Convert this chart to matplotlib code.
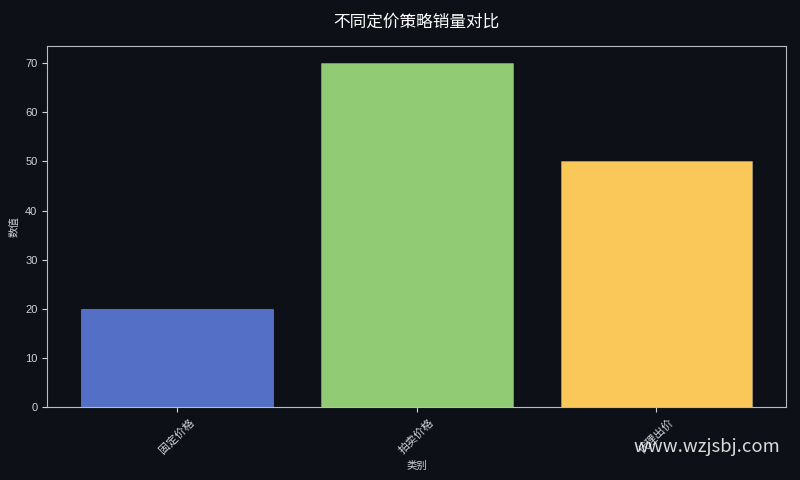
import matplotlib
matplotlib.use("Agg")
import matplotlib.pyplot as plt

plt.rcParams['font.family'] = ['Liberation Sans', 'Noto Sans CJK SC', 'DejaVu Sans']

# data
categories = ["固定价格", "拍卖价格", "代理出价"]
values = [20, 70, 50]
colors = ["#5470c6", "#91cc75", "#fac858"]

bg = "#0d1017"
fg = "#d0d4da"

fig, ax = plt.subplots(figsize=(8, 4.8), dpi=100)
fig.patch.set_facecolor(bg)
ax.set_facecolor(bg)

ax.bar(categories, values, color=colors, edgecolor=(1, 1, 1, 0.35), linewidth=0.5)

ax.set_title("不同定价策略销量对比", color="white", fontsize=12, pad=14)
ax.set_xlabel("类别", color=fg, fontsize=7.5)
ax.set_ylabel("数值", color=fg, fontsize=7.5)
ax.tick_params(axis="x", colors=fg, labelsize=8, rotation=45)
ax.tick_params(axis="y", colors=fg, labelsize=8)
for s in ax.spines.values():
    s.set_color("#b8bcc4")

fig.subplots_adjust(left=0.059, right=0.9825, top=0.904, bottom=0.152)

# watermark
fig.text(0.975, 0.068, "www.wzjsbj.com", color="white", alpha=0.85,
         fontsize=13.3, ha="right", va="center", family="Noto Sans CJK SC")

plt.savefig("out.png", facecolor=bg)
